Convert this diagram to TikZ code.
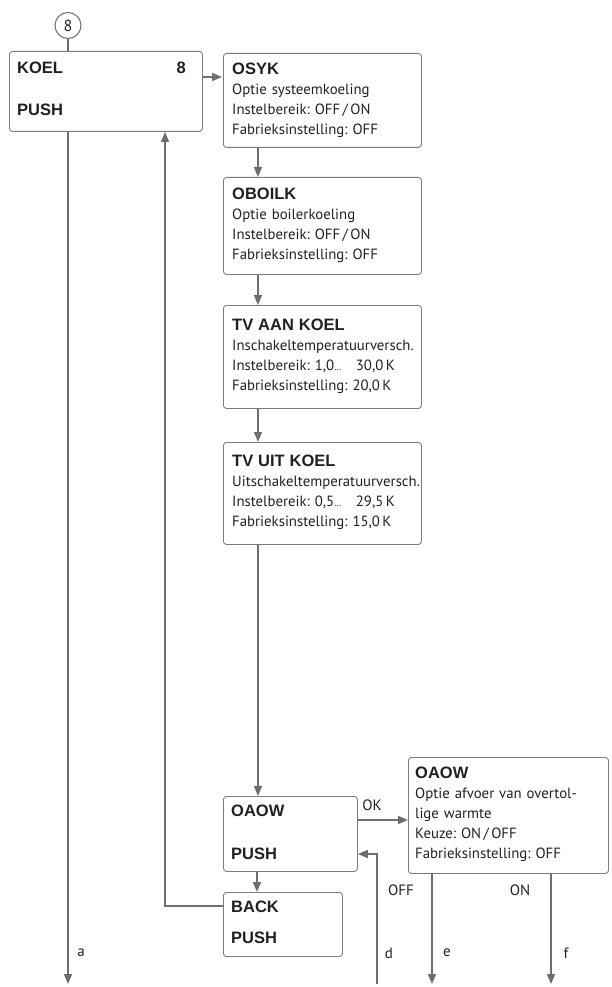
\documentclass[tikz,border=0pt]{standalone}
\usepackage{fontspec}
\setmainfont{PT Sans}
\newfontfamily\headfont{Liberation Sans}
\usetikzlibrary{arrows.meta,positioning}
\definecolor{wire}{HTML}{6E6E6E}
\definecolor{frame}{HTML}{7C7C7C}
\definecolor{ink}{HTML}{231F20}
\frenchspacing
\newcommand{\hd}[1]{{\headfont\bfseries\fontsize{16.5}{20}\selectfont #1}}
\tikzset{
  >={Triangle[length=10pt,width=8pt]},
  every node/.append style={text=ink},
  box/.style={draw=frame, line width=0.9pt, rounded corners=3pt, anchor=north west, inner sep=0pt},
  body/.style={anchor=north west, align=left, inner sep=0pt, text width=#1,
    font=\fontsize{14.8}{20}\selectfont},
  body/.default=190pt,
  head/.style={font=\headfont\bfseries\fontsize{16.5}{20}\selectfont, anchor=west, inner sep=0pt},
  tag/.style={font=\fontsize{15}{18}\selectfont, inner sep=0pt},
  flow/.style={wire, line width=1.5pt, ->},
  link/.style={wire, line width=1.5pt},
}

\begin{document}
\begin{tikzpicture}[x=1pt,y=-1pt]
  \useasboundingbox (0,0) rectangle (611,987);

  % entry marker and KOEL menu
  \node[draw=wire, line width=1pt, circle, minimum size=26pt, inner sep=0pt,
    font=\fontsize{16}{18}\selectfont] (mark) at (68,25.5) {8};
  \node[box, minimum width=193pt, minimum height=80pt] (koel) at (9,51) {};
  \draw[link] (mark.south) -- (mark.south |- koel.north);
  \node[head] (koelname) at (17,68) {KOEL};
  \node[head, anchor=east] (koelnr) at (186,68) {8};
  \node[head] (koelpush) at (17,110) {PUSH};

  % parameter boxes
  \node[box, minimum width=198pt, minimum height=94pt] (osyk) at (223,53) {};
  \node[body] (osyktxt) at ([shift={(9,10)}]osyk.north west)
    {\hd{OSYK}\\Optie systeemkoeling\\Instelbereik: OFF\,/\,ON\\Fabrieksinstelling: OFF};

  \node[box, minimum width=198pt, minimum height=97pt] (oboilk) at (223,177) {};
  \node[body] (oboilktxt) at ([shift={(9,11)}]oboilk.north west)
    {\hd{OBOILK}\\Optie boilerkoeling\\Instelbereik: OFF\,/\,ON\\Fabrieksinstelling: OFF};

  \node[box, minimum width=198pt, minimum height=103pt] (tvaan) at (223,305) {};
  \node[body] (tvaantxt) at ([shift={(9,14)}]tvaan.north west)
    {\hd{TV AAN KOEL}\\Inschakeltemperatuurversch.\\Instelbereik: 1,0{\small\dots}\quad 30,0\,K\\Fabrieksinstelling: 20,0\,K};

  \node[box, minimum width=198pt, minimum height=102pt] (tvuit) at (223,442) {};
  \node[body] (tvuittxt) at ([shift={(9,13)}]tvuit.north west)
    {\hd{TV UIT KOEL}\\Uitschakeltemperatuurversch.\\Instelbereik: 0,5{\small\dots}\quad 29,5\,K\\Fabrieksinstelling: 15,0\,K};

  % OAOW menu and BACK
  \node[box, minimum width=134pt, minimum height=75pt] (oaow) at (223,796) {};
  \node[head] (oaowname) at (231,811) {OAOW};
  \node[head] (oaowpush) at (231,854) {PUSH};
  \node[box, minimum width=119pt, minimum height=64pt] (back) at (223,892) {};
  \node[head] (backname) at (231,907) {BACK};
  \node[head] (backpush) at (231,938) {PUSH};

  \node[box, minimum width=200pt, minimum height=116pt] (opt) at (408,757) {};
  \node[body] (opttxt) at ([shift={(7,10)}]opt.north west)
    {\hd{OAOW}\\Optie afvoer van overtol-\\lige warmte\\Keuze: ON\,/\,OFF\\Fabrieksinstelling: OFF};

  % exits
  \coordinate (aend) at (68,984);
  \coordinate (dend) at (377,984);
  \coordinate (eend) at (432,984);
  \coordinate (fend) at (551,984);

  % connectors
  \draw[flow] ([shift={(193,26)}]koel.north west) -- ++(20,0);
  \draw[flow] ([shift={(35,0)}]osyk.south west) -- ([shift={(35,0)}]oboilk.north west);
  \draw[flow] ([shift={(35,0)}]oboilk.south west) -- ([shift={(35,0)}]tvaan.north west);
  \draw[flow] ([shift={(35,0)}]tvaan.south west) -- ([shift={(35,0)}]tvuit.north west);
  \draw[flow] ([shift={(35,0)}]tvuit.south west) -- ([shift={(35,0)}]oaow.north west);
  \draw[flow] ([shift={(34,0)}]oaow.south west) -- ([shift={(34,0)}]back.north west);
  \draw[flow] ([shift={(0,14)}]back.north west) -| ([shift={(156,0)}]koel.south west);
  \draw[flow] ([shift={(59,0)}]koel.south west) -- (aend);
  \draw[flow] ([shift={(0,24)}]oaow.north east) -- ([shift={(0,24)}]oaow.north east -| opt.west);
  \draw[flow] (dend) |- ([shift={(0,58)}]oaow.north east);
  \draw[flow] ([shift={(24,0)}]opt.south west) -- (eend);
  \draw[flow] ([shift={(143,0)}]opt.south west) -- (fend);

  % connector labels
  \node[tag] (lok) at (372,805) {OK};
  \node[tag] (loff) at (401,890) {OFF};
  \node[tag] (lon) at (520,890) {ON};
  \node[tag] (la) at (81,953) {a};
  \node[tag] (ld) at (389,953) {d};
  \node[tag] (le) at (447,953) {e};
  \node[tag] (lf) at (566,953) {f};
\end{tikzpicture}
\end{document}
